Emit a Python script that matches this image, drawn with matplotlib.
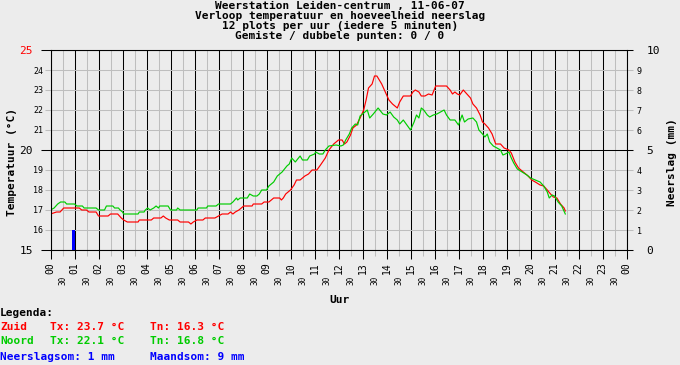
import numpy as np
import matplotlib
matplotlib.use("Agg")
from matplotlib import pyplot as plt

# temperatuur Zuid (rood), uur / graden C
zuid_uur = [0.0, 0.25, 0.4, 0.55, 1.2, 1.3, 1.5, 1.6, 1.9, 2.0, 2.4, 2.5, 2.8, 2.95, 3.05, 3.2,
            3.65, 3.7, 4.2, 4.3, 4.6, 4.7, 4.8, 4.95, 5.3, 5.4, 5.75, 5.85, 5.95, 6.1, 6.35, 6.45,
            6.85, 7.0, 7.15, 7.4, 7.5, 7.6, 7.7, 7.85, 7.95, 8.05, 8.4, 8.45, 8.8, 8.9, 9.1, 9.2,
            9.3, 9.55, 9.62, 9.7, 9.8, 10.0, 10.15, 10.25, 10.4, 10.6, 10.75, 10.9, 11.1, 11.25,
            11.45, 11.6, 11.8, 11.9, 12.0, 12.15, 12.25, 12.35, 12.5, 12.6, 12.75, 12.9, 13.05,
            13.15, 13.25, 13.4, 13.5, 13.6, 13.8, 13.95, 14.1, 14.25, 14.45, 14.55, 14.7, 15.0,
            15.1, 15.2, 15.35, 15.45, 15.6, 15.75, 15.9, 16.05, 16.5, 16.65, 16.75, 16.85, 16.95,
            17.05, 17.2, 17.35, 17.5, 17.6, 17.75, 17.9, 18.0, 18.1, 18.25, 18.4, 18.55, 18.75,
            18.9, 19.1, 19.2, 19.35, 19.5, 19.7, 19.9, 20.05, 20.2, 20.4, 20.55, 20.7, 20.8,
            20.95, 21.1, 21.25, 21.4, 21.45]
zuid_temp = [16.8, 16.9, 16.9, 17.1, 17.1, 17.0, 17.0, 16.9, 16.9, 16.7, 16.7, 16.8, 16.8, 16.6,
             16.5, 16.4, 16.4, 16.5, 16.5, 16.6, 16.6, 16.7, 16.6, 16.5, 16.5, 16.4, 16.4, 16.3,
             16.4, 16.5, 16.5, 16.6, 16.6, 16.7, 16.8, 16.8, 16.9, 16.8, 16.9, 17.0, 17.1, 17.2,
             17.2, 17.3, 17.3, 17.4, 17.4, 17.5, 17.6, 17.6, 17.5, 17.6, 17.8, 18.0, 18.25, 18.5,
             18.5, 18.7, 18.8, 19.0, 19.0, 19.25, 19.6, 20.0, 20.3, 20.4, 20.5, 20.5, 20.3, 20.4,
             20.75, 21.1, 21.25, 21.6, 22.0, 22.5, 23.1, 23.3, 23.7, 23.7, 23.3, 22.9, 22.5, 22.3,
             22.1, 22.4, 22.7, 22.7, 22.9, 23.0, 22.9, 22.7, 22.7, 22.8, 22.75, 23.2, 23.2, 23.0,
             22.8, 22.9, 22.8, 22.75, 23.0, 22.8, 22.6, 22.3, 22.1, 21.75, 21.4, 21.3, 21.1, 20.8,
             20.3, 20.3, 20.1, 20.0, 19.85, 19.4, 19.1, 18.9, 18.7, 18.5, 18.4, 18.25, 18.2, 18.0,
             17.85, 17.65, 17.6, 17.3, 17.1, 16.95]

# temperatuur Noord (groen)
noord_uur = [0.0, 0.15, 0.3, 0.42, 0.6, 0.67, 1.0, 1.1, 1.33, 1.4, 1.9, 2.0, 2.25, 2.33, 2.6,
             2.67, 2.83, 2.9, 3.0, 3.05, 3.65, 3.7, 3.9, 3.95, 4.05, 4.15, 4.3, 4.4, 4.5, 4.55,
             4.9, 5.0, 5.25, 5.3, 5.4, 6.1, 6.15, 6.5, 6.55, 6.9, 7.0, 7.5, 7.6, 7.75, 7.8, 7.9,
             8.2, 8.3, 8.45, 8.6, 8.7, 8.8, 9.0, 9.1, 9.3, 9.45, 9.65, 9.85, 9.95, 10.05, 10.2,
             10.4, 10.5, 10.7, 10.8, 11.0, 11.05, 11.2, 11.35, 11.45, 11.6, 11.9, 12.1, 12.2,
             12.3, 12.45, 12.55, 12.7, 12.8, 12.9, 13.0, 13.2, 13.3, 13.45, 13.65, 13.85, 14.0,
             14.15, 14.3, 14.45, 14.55, 14.7, 14.85, 15.0, 15.15, 15.25, 15.35, 15.45, 15.55,
             15.7, 15.8, 15.95, 16.1, 16.4, 16.5, 16.65, 16.85, 17.0, 17.15, 17.25, 17.4, 17.6,
             17.75, 17.85, 18.0, 18.1, 18.2, 18.3, 18.45, 18.6, 18.75, 18.85, 18.95, 19.1, 19.2,
             19.3, 19.45, 19.65, 19.85, 20.0, 20.2, 20.4, 20.55, 20.7, 20.78, 20.9, 21.0, 21.15,
             21.3, 21.45]
noord_temp = [17.0, 17.1, 17.3, 17.4, 17.4, 17.3, 17.3, 17.2, 17.2, 17.1, 17.1, 17.0, 17.0, 17.2,
              17.2, 17.1, 17.1, 17.0, 16.9, 16.8, 16.8, 16.9, 16.9, 17.0, 17.1, 17.0, 17.1, 17.2,
              17.1, 17.2, 17.2, 17.0, 17.0, 17.1, 17.0, 17.0, 17.1, 17.1, 17.2, 17.2, 17.3, 17.3,
              17.4, 17.6, 17.5, 17.6, 17.6, 17.8, 17.7, 17.7, 17.8, 18.0, 18.0, 18.2, 18.4, 18.7,
              18.9, 19.2, 19.3, 19.6, 19.4, 19.7, 19.5, 19.5, 19.7, 19.8, 19.9, 19.8, 19.8, 20.0,
              20.2, 20.25, 20.2, 20.25, 20.5, 20.8, 21.1, 21.3, 21.25, 21.7, 21.8, 22.0, 21.6,
              21.8, 22.1, 21.8, 21.75, 21.9, 21.65, 21.5, 21.3, 21.5, 21.25, 21.0, 21.4, 21.75,
              21.6, 22.1, 22.0, 21.75, 21.65, 21.75, 21.8, 22.0, 21.75, 21.5, 21.5, 21.25, 21.75,
              21.4, 21.55, 21.6, 21.4, 21.0, 20.8, 20.65, 20.8, 20.4, 20.2, 20.1, 20.0, 19.75,
              19.8, 19.9, 19.6, 19.35, 19.05, 18.9, 18.75, 18.6, 18.5, 18.4, 18.2, 17.9, 17.6,
              17.75, 17.7, 17.4, 17.2, 16.8]

# neerslag (mm)
regen_uur = [0.95]
regen_mm = [1.0]

uur_labels = ["%02d" % (h % 24) for h in range(25)]
half_labels = ["30"] * 24

titel = ["Weerstation Leiden-centrum , 11-06-07",
         "Verloop temperatuur en hoeveelheid neerslag",
         "12 plots per uur (iedere 5 minuten)",
         "Gemiste / dubbele punten: 0 / 0"]

bg = "#ececec"
grijs = "#bebebe"
rood = "#ff0000"
groen = "#00cc00"
blauw = "#0000ff"
mono = "DejaVu Sans Mono"
lw = 0.75

W, H = 680, 365
fig = plt.figure(figsize=(W / 100, H / 100), dpi=100, facecolor=bg)
ax = fig.add_axes([50.5 / W, (H - 250) / H, 576 / W, 200 / H], facecolor=bg)
ax2 = ax.twinx()

# rasters
ax.set_xlim(0, 24)
ax.set_ylim(15, 25)
ax.set_xticks(np.arange(0, 25), uur_labels)
ax.set_xticks(np.arange(0.5, 24, 1), half_labels, minor=True)
ax.set_yticks([15, 20, 25], ["15", "20", "25"])
ax.set_yticks([y for y in range(16, 25) if y != 20],
              [str(y) for y in range(16, 25) if y != 20], minor=True)
ax.grid(which="major", color="black", lw=lw)
ax.grid(which="minor", color=grijs, lw=lw)
ax.set_axisbelow(True)

ax.tick_params(axis="x", which="major", length=6.5, width=lw, color="black", pad=2.5,
               labelsize=7, labelrotation=90)
ax.tick_params(axis="x", which="minor", length=4.3, width=lw, color=grijs, pad=14.5,
               labelsize=5.5, labelrotation=90)
ax.tick_params(axis="y", which="major", length=7.2, width=lw, color="black", pad=5.5,
               labelsize=8)
ax.tick_params(axis="y", which="minor", length=4.3, width=lw, color=grijs, pad=0.8,
               labelsize=6)
for lab in ax.get_xticklabels(which="both") + ax.get_yticklabels(which="both"):
    lab.set_fontfamily(mono)
ax.get_yticklabels()[2].set_color(rood)

ax.plot(zuid_uur, zuid_temp, color=rood, lw=0.85, zorder=3)
ax.plot(noord_uur, noord_temp, color=groen, lw=0.85, zorder=3)

# neerslag as
ax2.set_ylim(0, 10)
ax2.set_yticks([0, 5, 10], ["0", "5", "10"])
ax2.set_yticks([y for y in range(1, 10) if y != 5],
               [str(y) for y in range(1, 10) if y != 5], minor=True)
ax2.tick_params(axis="y", which="major", length=4.3, width=lw, color="black", pad=10,
                labelsize=8)
ax2.tick_params(axis="y", which="minor", length=4.3, width=lw, color=grijs, pad=3,
                labelsize=6)
for lab in ax2.get_yticklabels(which="both"):
    lab.set_fontfamily(mono)
ax2.bar(regen_uur, regen_mm, width=0.1, color=blauw, zorder=4)

for a in (ax, ax2):
    for s in a.spines.values():
        s.set_color("black")
        s.set_linewidth(lw)

# teksten
for i, regel in enumerate(titel):
    fig.text(340 / W, 1 - (6.5 + 9.8 * i) / H, regel, ha="center", va="center",
             family=mono, weight="bold", fontsize=8)

fig.text(12 / W, 1 - 162 / H, "Temperatuur (°C)", rotation=90, ha="center", va="center",
         family=mono, weight="bold", fontsize=8)
fig.text(672 / W, 1 - 162 / H, "Neerslag (mm)", rotation=90, ha="center", va="center",
         family=mono, weight="bold", fontsize=8)
fig.text(339 / W, 1 - 300 / H, "Uur", ha="center", va="center",
         family=mono, weight="bold", fontsize=8)

legenda = [
    (312.5, [(0, "Legenda:", "black")]),
    (326.5, [(0, "Zuid", rood), (50, "Tx: 23.7 °C", rood), (150, "Tn: 16.3 °C", rood)]),
    (341.5, [(0, "Noord", groen), (50, "Tx: 22.1 °C", groen), (150, "Tn: 16.8 °C", groen)]),
    (356.5, [(0, "Neerslagsom: 1 mm", blauw), (150, "Maandsom: 9 mm", blauw)]),
]
for y, delen in legenda:
    for x, tekst, kleur in delen:
        fig.text(x / W, 1 - y / H, tekst, ha="left", va="center", color=kleur,
                 family=mono, weight="bold", fontsize=8)

fig.savefig("out.png", dpi=100, facecolor=bg)
